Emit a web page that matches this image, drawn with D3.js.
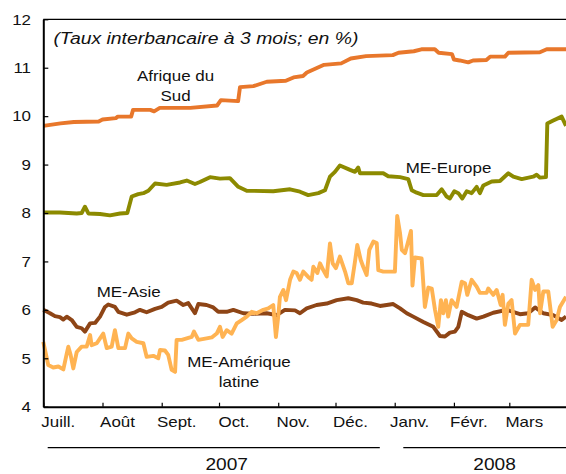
<!DOCTYPE html>
<html><head><meta charset="utf-8">
<script src="https://cdn.jsdelivr.net/npm/d3@7"></script>
<style>
html,body{margin:0;padding:0;background:#fff;}
svg{display:block;font-family:"Liberation Sans",Arial,sans-serif;}
</style></head>
<body>
<svg id="chart" width="566" height="474"></svg>
<script>
// ---- data (day offsets from 1 July 2007, value in %) ----
const startDate = Date.UTC(2007, 6, 1);
const endDate = Date.UTC(2008, 2, 31);

const seriesNames = ["Afrique du Sud", "ME-Europe", "ME-Asie", "ME-Amérique latine"];

const southAfrica = [[0,9.80],[9,9.85],[16,9.88],[29,9.89],[31,9.93],[38,9.96],[39,9.99],[46,9.99],[47,10.13],[56,10.13],[58,10.10],[61,10.17],[77,10.17],[91,10.22],[93,10.33],[102,10.31],[103,10.60],[110,10.62],[117,10.71],[127,10.73],[131,10.80],[136,10.83],[138,10.90],[147,11.06],[156,11.09],[161,11.19],[169,11.24],[183,11.26],[186,11.31],[194,11.34],[198,11.38],[205,11.38],[207,11.31],[214,11.28],[215,11.17],[218,11.15],[222.5,11.11],[225,11.15],[232,11.16],[234,11.23],[241.7,11.23],[243.5,11.31],[260,11.32],[263.6,11.38],[273.7,11.38]];

const emEurope = [[0,8.01],[8.7,8.01],[17.5,7.99],[20.1,8.00],[21.8,8.13],[23.6,7.99],[29.7,7.98],[34.9,7.95],[40.2,7.99],[44,8.00],[46.3,8.34],[49.7,8.39],[52.4,8.41],[55,8.46],[58.5,8.61],[64.6,8.58],[71.6,8.63],[75.1,8.67],[79.4,8.60],[82,8.64],[87.3,8.74],[92.5,8.71],[97.7,8.72],[102.1,8.54],[106.5,8.46],[120.4,8.45],[129.2,8.49],[134.4,8.44],[138.7,8.37],[144,8.41],[147.5,8.47],[150.1,8.75],[152.7,8.85],[155.3,8.98],[160.6,8.89],[163.2,8.85],[164.9,8.94],[165.8,8.82],[178,8.82],[180.6,8.76],[186.8,8.74],[191.1,8.70],[192.9,8.47],[195.5,8.42],[199,8.37],[206,8.37],[208.6,8.49],[211.2,8.34],[212.9,8.30],[215.2,8.45],[217.3,8.41],[219.4,8.30],[221.7,8.45],[224.3,8.41],[226.9,8.54],[228.6,8.41],[230.4,8.57],[234.8,8.65],[239.1,8.66],[243.5,8.82],[246.1,8.75],[250.5,8.70],[256.5,8.75],[258.3,8.79],[260.1,8.73],[263.2,8.74],[263.9,9.85],[267,9.91],[271.4,9.99],[273.7,9.80]];

const emAsia = [[0,6.00],[3.5,5.93],[6.1,5.87],[8.7,5.85],[10.5,5.80],[12.3,5.86],[14.9,5.79],[17.5,5.65],[20.1,5.62],[21.8,5.55],[24.5,5.72],[27.1,5.73],[29.7,5.86],[32.3,6.06],[34,6.11],[37.5,6.06],[39.3,5.96],[43.7,5.90],[48,5.95],[50.6,6.00],[54.1,5.95],[58.5,6.02],[62,6.06],[65.4,6.15],[69.8,6.19],[73.3,6.10],[75.9,6.14],[79.4,5.93],[81.2,6.12],[85.5,6.10],[89,6.05],[91.6,5.96],[96,5.96],[99.5,6.00],[104.7,5.93],[109.9,5.92],[117,5.93],[122.2,5.89],[126.5,6.00],[131.8,5.99],[134.4,5.93],[137.9,6.03],[143.1,6.10],[148.4,6.13],[153.6,6.20],[159.7,6.24],[164.1,6.20],[167.5,6.15],[171.9,6.13],[176.3,6.08],[179.8,6.10],[183.2,6.12],[186.8,6.03],[190.3,5.93],[193.7,5.86],[199,5.75],[204.2,5.65],[207.7,5.46],[210.3,5.45],[212.9,5.53],[215.5,5.55],[217.3,5.65],[219.1,5.96],[222.5,5.89],[226.9,5.82],[230.4,5.86],[235.6,5.94],[242.6,6.00],[249.6,5.91],[253.9,5.93],[257.5,6.05],[261.8,5.93],[267,5.89],[271.4,5.79],[273.7,5.86]];

const emLatAm = [[0,5.34],[2.6,4.86],[5.2,4.81],[7.9,4.83],[10.5,4.77],[12.3,5.10],[13.1,5.24],[14.3,5.07],[15.7,4.79],[17.5,5.13],[20.1,5.24],[22.7,5.24],[24.5,5.48],[25.3,5.27],[28,5.31],[29.7,5.41],[31.4,5.51],[33.2,5.21],[35.8,5.24],[37.5,5.58],[39.3,5.21],[42.8,5.21],[44.5,5.51],[46.3,5.41],[48.9,5.34],[52.4,5.31],[54.1,5.03],[57.6,5.05],[60.2,5.00],[61.1,5.17],[63.7,5.16],[65.4,5.07],[67.2,4.76],[69,4.72],[69.8,5.38],[72.5,5.38],[75.1,5.41],[77.7,5.44],[78.9,5.55],[81.2,5.38],[85.5,5.41],[88.2,5.43],[90.8,5.51],[92.5,5.65],[93.9,5.44],[96,5.58],[98.6,5.51],[101.3,5.72],[103.9,5.79],[106.5,5.86],[109.1,5.96],[111.7,5.93],[115.2,6.00],[117.8,6.03],[120.4,6.10],[121.8,5.44],[123,5.86],[123.9,6.27],[125.7,6.41],[127.1,6.20],[129.2,6.62],[130.9,6.79],[132.7,6.76],[134.4,6.62],[136.1,6.79],[138.7,6.68],[140.5,6.62],[141.4,6.89],[143.5,6.76],[144.9,6.96],[146.6,6.82],[148.4,6.69],[150.1,7.37],[151.5,6.96],[153.2,6.86],[155.3,7.10],[158,6.79],[159.7,6.55],[161.5,6.55],[163.2,7.00],[164.4,7.34],[166.2,7.03],[167.5,6.89],[169.3,6.72],[170.7,7.24],[172.8,7.41],[174.6,7.38],[175.4,6.82],[178,6.79],[184.1,6.79],[185.3,7.94],[186.8,7.58],[187.7,7.24],[189.4,7.17],[192.5,7.63],[193.3,6.50],[194.6,7.08],[198.1,7.06],[199.8,6.06],[201.6,6.46],[203.4,6.44],[205.1,6.00],[206.8,5.65],[208.2,6.20],[209.4,5.93],[210.8,6.20],[212,5.86],[213.8,6.20],[216.4,6.06],[219.1,6.58],[220.8,6.55],[222,6.31],[224.3,6.62],[226.9,6.48],[228.6,6.35],[232.1,6.35],[233,6.44],[235.6,6.31],[237.4,6.41],[239.5,6.10],[240.5,6.31],[241.7,5.69],[243.5,6.13],[245.2,6.20],[247,5.51],[249.6,5.69],[253.9,5.69],[255.7,6.62],[257.5,6.41],[259.2,6.51],[260.1,5.93],[261.8,6.38],[264.4,6.38],[266.7,5.65],[268.8,5.79],[270.5,6.06],[273.7,6.27]];

const yTicks = [4,5,6,7,8,9,10,11,12];
const monthLabels = ["Juill.","Août","Sept.","Oct.","Nov.","Déc.","Janv.","Févr.","Mars"];
const yearLabels = ["2007","2008"];
const title = "(Taux interbancaire à 3 mois; en %)";

// ---- drawing ----
const svg = d3.select("#chart");
const L = 43.3, R = 566.6, T = 19.3, B = 406.7;
const SX = 1.13;
const x = d3.scaleUtc().domain([startDate, endDate]).range([L, R]);
const y = d3.scaleLinear().domain([4, 12]).range([B, T]);
const toDate = d => new Date(startDate + d * 864e5);

function txt(s, tx, ty, anchor, size, opts = {}) {
  return svg.append("text")
    .attr("transform", `translate(${tx},${ty}) scale(${opts.sx || SX},1)`)
    .attr("text-anchor", anchor)
    .style("font-size", size + "px")
    .style("font-style", opts.italic ? "italic" : "normal")
    .attr("fill", "#111")
    .text(s);
}

// top border
svg.append("line").attr("x1", L).attr("x2", R).attr("y1", T).attr("y2", T)
  .attr("stroke", "#000").attr("stroke-width", 1.3);

// series lines
const line = d3.line().x(d => x(toDate(d[0]))).y(d => y(d[1]));
const series = [
  {data: southAfrica, color: "#E8772B", w: 3.9},
  {data: emEurope, color: "#8C8A00", w: 3.9},
  {data: emAsia, color: "#8E4516", w: 3.9},
  {data: emLatAm, color: "#FFB352", w: 3.9}
];
series.forEach(s => {
  svg.append("path").datum(s.data).attr("d", line)
    .attr("fill", "none").attr("stroke", s.color).attr("stroke-width", s.w)
    .attr("stroke-linejoin", "round").attr("stroke-linecap", "butt");
});

// left axis
const gy = svg.append("g").attr("transform", `translate(${L},0)`)
  .call(d3.axisLeft(y).tickValues(yTicks).tickSize(-5).tickSizeOuter(0).tickFormat(d3.format("d")));
gy.select(".domain").attr("stroke-width", 2).attr("stroke", "#000");
gy.selectAll(".tick line").attr("stroke-width", 1.2);
gy.selectAll(".tick text").attr("x", null).attr("dy", null)
  .attr("transform", `translate(-12.3,4.8) scale(${SX},1)`)
  .style("font-size", "15px").style("font-family", "'Liberation Sans',Arial,sans-serif").attr("fill", "#111");

// bottom axis
const months = d3.utcMonth.range(new Date(startDate), new Date(endDate));
const gx = svg.append("g").attr("transform", `translate(0,${B})`)
  .call(d3.axisBottom(x).tickValues(months).tickSize(-4).tickSizeOuter(0)
    .tickFormat((d, i) => monthLabels[i]));
gx.select(".domain").attr("stroke-width", 2).attr("stroke", "#000");
gx.selectAll(".tick line").attr("stroke-width", 1.2);
gx.selectAll(".tick text").attr("y", null).attr("dy", null)
  .attr("text-anchor", "middle")
  .attr("transform", `translate(14.5,20.5) scale(${SX},1)`)
  .style("font-size", "15px").style("font-family", "'Liberation Sans',Arial,sans-serif").attr("fill", "#111");

// year rules and labels
const yearY = 447.7;
svg.append("line").attr("x1", 47.7).attr("x2", 379.8).attr("y1", yearY).attr("y2", yearY)
  .attr("stroke", "#000").attr("stroke-width", 1.3);
svg.append("line").attr("x1", 403.3).attr("x2", 566).attr("y1", yearY).attr("y2", yearY)
  .attr("stroke", "#000").attr("stroke-width", 1.3);
txt(yearLabels[0], 226.7, 469.5, "middle", 16.5, {sx: 1.16});
txt(yearLabels[1], 494.6, 469.5, "middle", 16.5, {sx: 1.16});

// title
txt(title, 53.4, 44, "start", 17, {italic: true, sx: 1.14});

// series labels
txt("Afrique du", 175.5, 81.3, "middle", 15);
txt("Sud", 175.5, 101.3, "middle", 15);
txt("ME-Europe", 448.5, 172.7, "middle", 15);
txt("ME-Asie", 128.7, 297.3, "middle", 15);
txt("ME-Amérique", 239, 366.7, "middle", 15);
txt("latine", 239, 387.3, "middle", 15);
</script>
</body></html>
